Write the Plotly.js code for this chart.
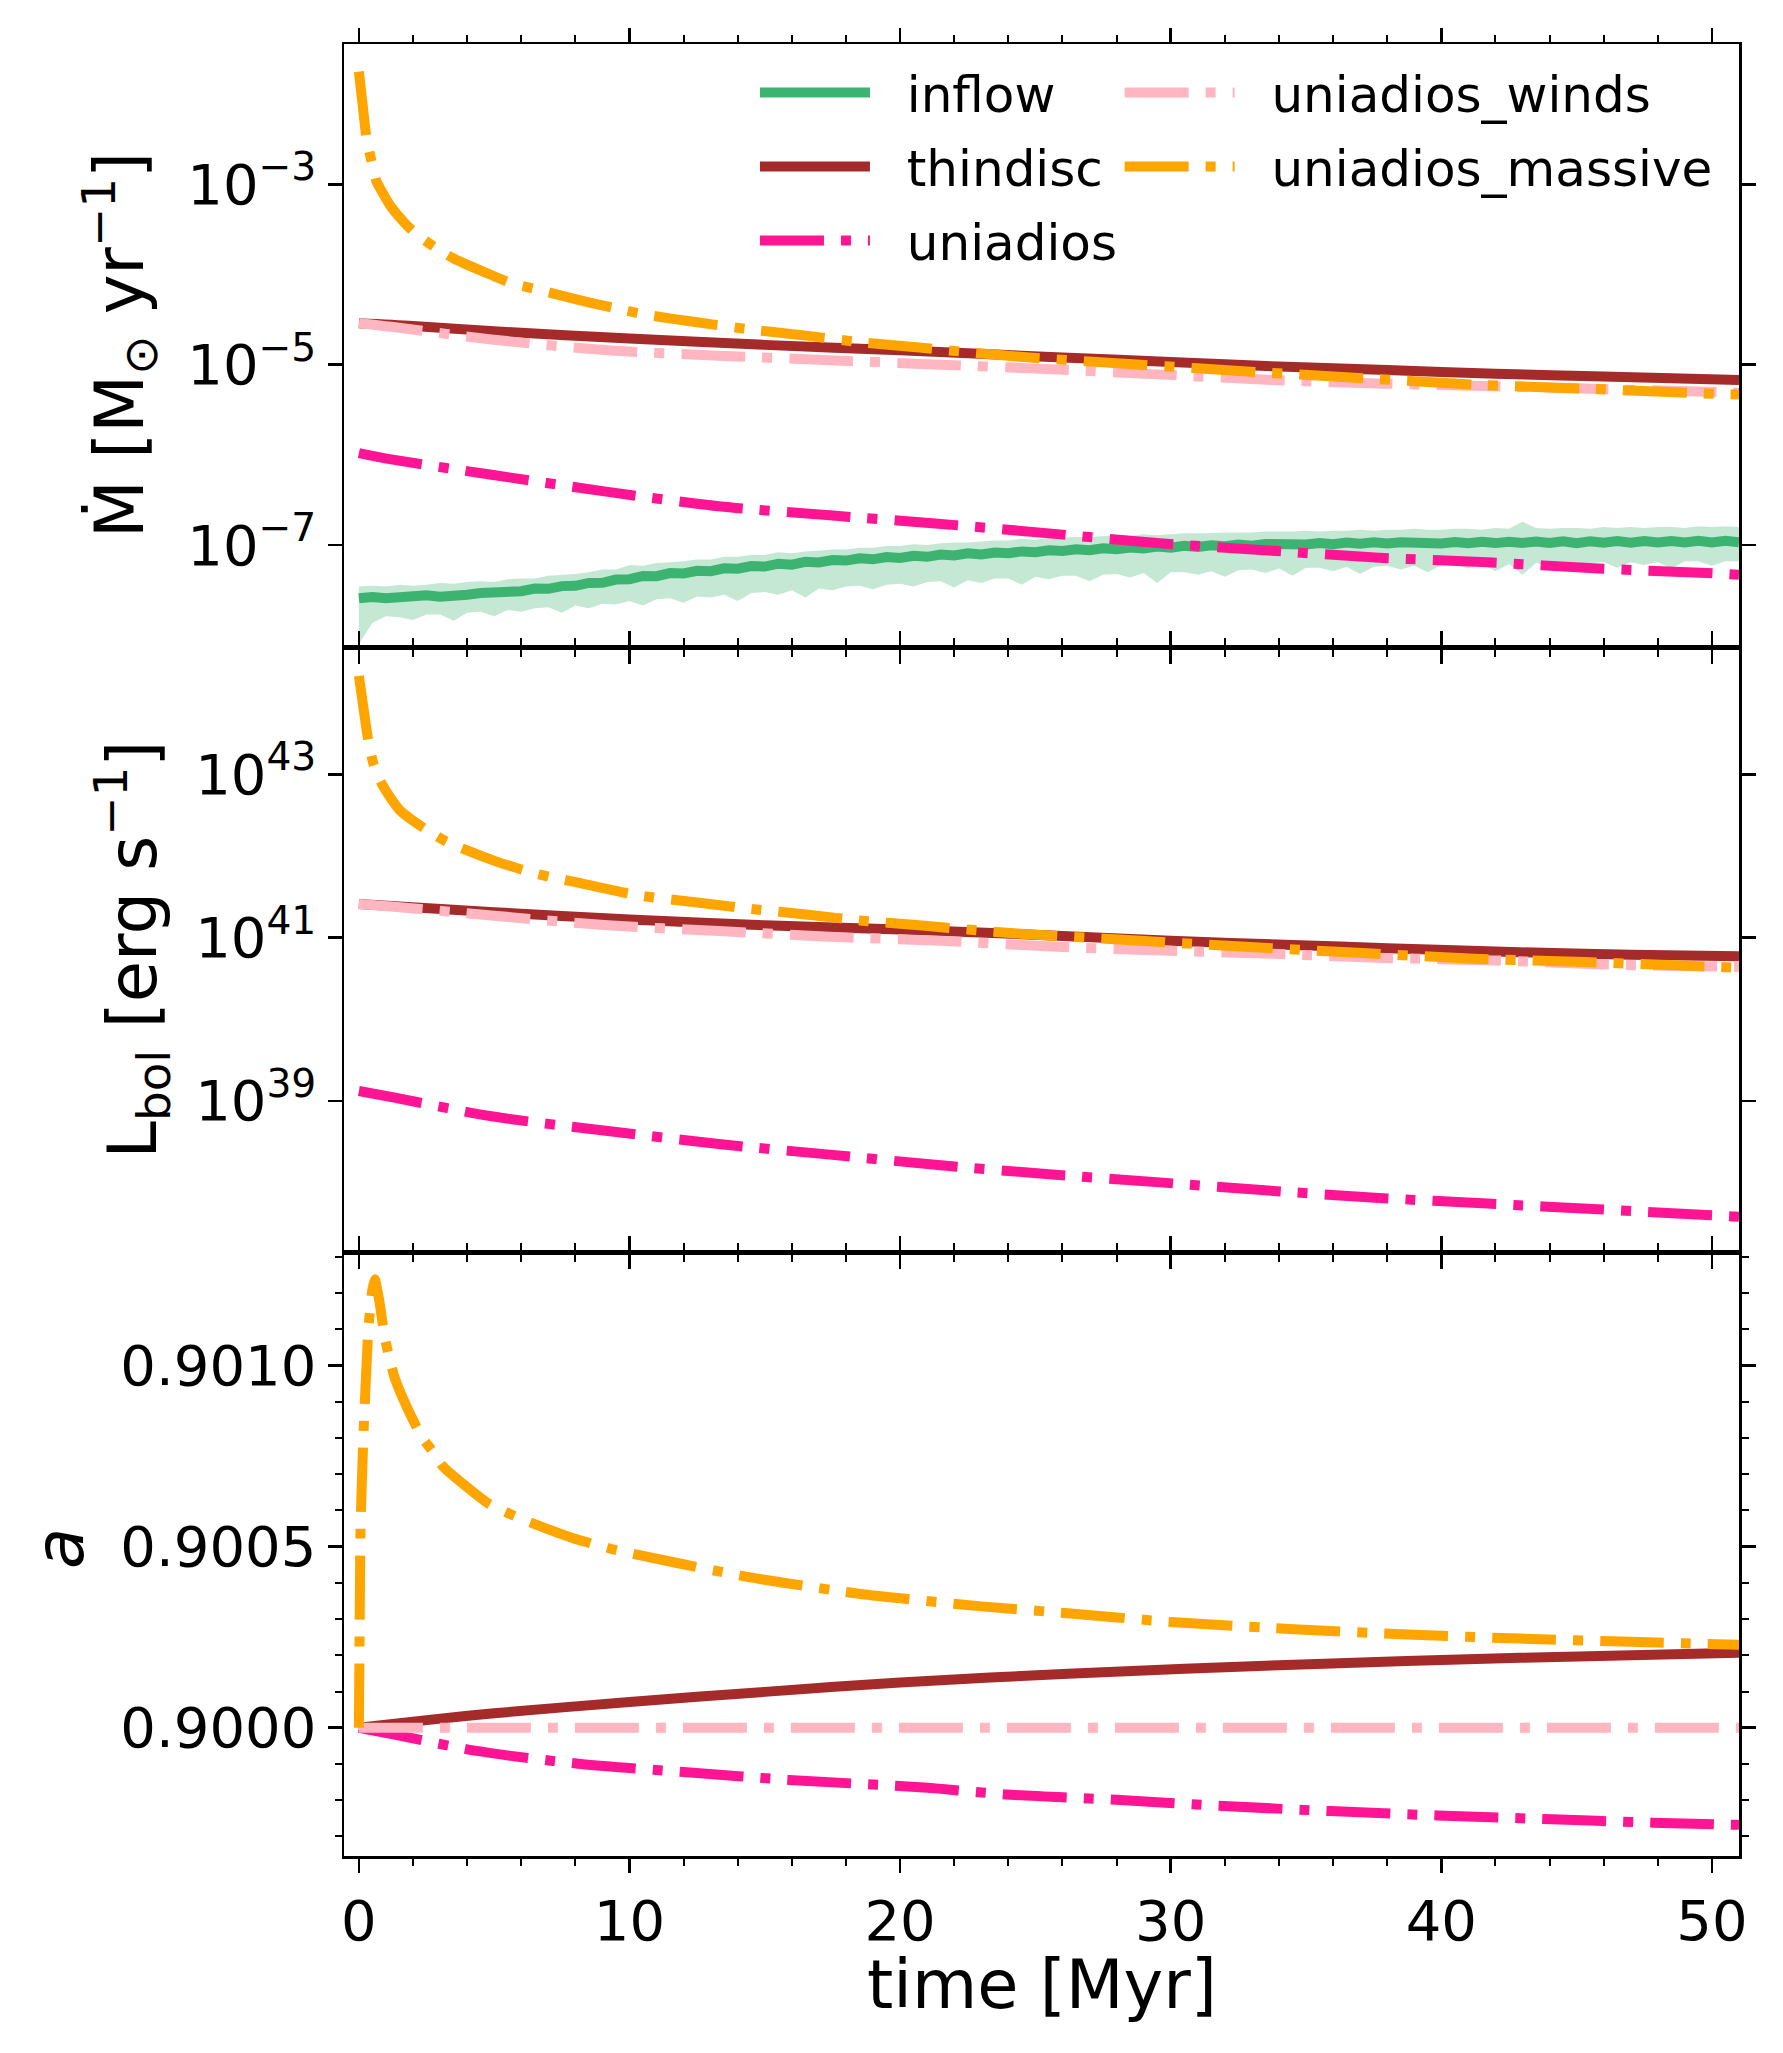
<!DOCTYPE html>
<html><head><meta charset="utf-8">
<script src="https://cdn.plot.ly/plotly-3.0.1.min.js"></script>
<style>html,body{margin:0;padding:0;background:#fff}</style>
</head><body><div id="chart" style="width:1783px;height:2053px"></div>
<script>
// ---------- Panel 1: accretion rate (log10 of Mdot in Msun/yr) ----------
const inflowTime = [
  0,0.5,1,1.5,2,2.5,3,3.5,4,4.5,
  5,5.5,6,6.5,7,7.5,8,8.5,9,9.5,
  10,10.5,11,11.5,12,12.5,13,13.5,14,14.5,
  15,15.5,16,16.5,17,17.5,18,18.5,19,19.5,
  20,20.5,21,21.5,22,22.5,23,23.5,24,24.5,
  25,25.5,26,26.5,27,27.5,28,28.5,29,29.5,
  30,30.5,31,31.5,32,32.5,33,33.5,34,34.5,
  35,35.5,36,36.5,37,37.5,38,38.5,39,39.5,
  40,40.5,41,41.5,42,42.5,43,43.5,44,44.5,
  45,45.5,46,46.5,47,47.5,48,48.5,49,49.5,
  50,50.5,51];
const inflowLineLog = [
  -7.59,-7.575,-7.588,-7.572,-7.58,-7.556,-7.572,-7.548,-7.55,-7.532,
  -7.53,-7.505,-7.512,-7.482,-7.485,-7.455,-7.452,-7.42,-7.418,-7.382,
  -7.378,-7.342,-7.345,-7.31,-7.315,-7.285,-7.29,-7.258,-7.262,-7.232,
  -7.238,-7.206,-7.218,-7.186,-7.192,-7.166,-7.172,-7.146,-7.158,-7.132,
  -7.142,-7.118,-7.13,-7.104,-7.115,-7.092,-7.104,-7.082,-7.09,-7.07,
  -7.078,-7.058,-7.066,-7.046,-7.056,-7.036,-7.046,-7.028,-7.038,-7.016,
  -7.028,-7.008,-7.02,-7.002,-7.012,-6.994,-7.006,-6.988,-6.998,-6.982,
  -6.994,-6.976,-6.99,-6.972,-6.986,-6.97,-6.983,-6.968,-6.98,-6.965,
  -6.982,-6.966,-6.98,-6.964,-6.978,-6.962,-6.976,-6.96,-6.976,-6.958,
  -6.978,-6.958,-6.974,-6.956,-6.974,-6.955,-6.972,-6.954,-6.972,-6.953,
  -6.97,-6.952,-6.968];
const inflowUpperLog = [
  -7.46,-7.45,-7.46,-7.44,-7.45,-7.44,-7.42,-7.43,-7.41,-7.40,
  -7.41,-7.38,-7.37,-7.37,-7.34,-7.33,-7.32,-7.30,-7.27,-7.27,
  -7.22,-7.23,-7.20,-7.19,-7.18,-7.16,-7.16,-7.13,-7.13,-7.11,
  -7.11,-7.08,-7.09,-7.07,-7.06,-7.05,-7.05,-7.03,-7.03,-7.01,
  -7.01,-6.99,-7.00,-6.98,-6.97,-6.97,-6.96,-6.95,-6.95,-6.93,
  -6.94,-6.92,-6.92,-6.91,-6.91,-6.90,-6.89,-6.90,-6.88,-6.89,
  -6.88,-6.87,-6.87,-6.87,-6.86,-6.86,-6.86,-6.85,-6.85,-6.85,
  -6.84,-6.85,-6.84,-6.84,-6.83,-6.84,-6.83,-6.83,-6.82,-6.83,
  -6.83,-6.82,-6.82,-6.83,-6.81,-6.82,-6.74,-6.81,-6.82,-6.81,
  -6.81,-6.82,-6.80,-6.81,-6.80,-6.81,-6.80,-6.80,-6.81,-6.79,
  -6.80,-6.79,-6.80];
const inflowLowerLog = [
  -8.10,-7.86,-7.79,-7.80,-7.83,-7.77,-7.77,-7.84,-7.75,-7.74,
  -7.79,-7.72,-7.74,-7.70,-7.69,-7.75,-7.67,-7.70,-7.65,-7.66,
  -7.62,-7.67,-7.60,-7.59,-7.64,-7.57,-7.58,-7.55,-7.62,-7.53,
  -7.52,-7.55,-7.50,-7.58,-7.48,-7.50,-7.46,-7.45,-7.49,-7.44,
  -7.43,-7.46,-7.41,-7.40,-7.47,-7.39,-7.42,-7.37,-7.37,-7.44,
  -7.35,-7.38,-7.34,-7.34,-7.40,-7.33,-7.32,-7.36,-7.31,-7.42,
  -7.30,-7.30,-7.33,-7.29,-7.35,-7.28,-7.27,-7.31,-7.26,-7.34,
  -7.25,-7.25,-7.29,-7.24,-7.32,-7.24,-7.23,-7.27,-7.23,-7.30,
  -7.22,-7.22,-7.26,-7.21,-7.29,-7.21,-7.33,-7.20,-7.24,-7.20,
  -7.27,-7.20,-7.19,-7.25,-7.19,-7.22,-7.19,-7.26,-7.18,-7.18,
  -7.23,-7.18,-7.18];

const thindiscMdotTime = [0,2,5,10,15,20,26,30,34,38,42,46,51];
const thindiscMdotLog  = [-4.54,-4.57,-4.63,-4.71,-4.78,-4.84,-4.92,-4.97,-5.02,-5.06,-5.10,-5.13,-5.17];

const uniadiosMdotTime = [0,1.2,4.9,9.2,13.3,17.4,21.3,25.5,29.6,33.6,37.7,41.7,45.8,49.8,51];
const uniadiosMdotLog  = [-5.98,-6.05,-6.22,-6.41,-6.57,-6.67,-6.76,-6.87,-6.98,-7.06,-7.14,-7.19,-7.26,-7.31,-7.33];

const windsMdotTime = [0,1.2,4.9,9.2,13.3,17.4,21.5,25.6,29.7,33.8,37.9,42,46,51];
const windsMdotLog  = [-4.54,-4.58,-4.72,-4.84,-4.90,-4.95,-5.0,-5.05,-5.11,-5.17,-5.21,-5.24,-5.27,-5.31];

const massiveMdotTime = [0,0.14,0.283,0.44,0.653,0.776,1.146,1.638,2.07,2.77,3.49,4.59,5.64,6.5,7.37,8.5,9.65,10.5,12.5,14.5,16.6,18.5,20.7,24.3,28.9,33.1,37.1,41.2,45.3,49.4,51];
const massiveMdotLog  = [-1.75,-2.12,-2.49,-2.71,-2.97,-3.04,-3.23,-3.41,-3.54,-3.69,-3.82,-3.967,-4.096,-4.16,-4.225,-4.31,-4.384,-4.44,-4.53,-4.61,-4.68,-4.75,-4.81,-4.91,-5.0,-5.08,-5.15,-5.22,-5.265,-5.315,-5.33];

// ---------- Panel 2: bolometric luminosity (log10 of erg/s) ----------
const thindiscLTime = [0,5,10,15,20,26,30,34.5,38,42.9,47,51];
const thindiscLLog  = [41.41,41.31,41.22,41.15,41.10,41.02,40.96,40.91,40.87,40.82,40.79,40.77];

const uniadiosLTime = [0,1.3,4.9,9.2,13.3,17.4,21.5,25.5,29.6,33.6,37.7,41.7,45.8,49.8,51];
const uniadiosLLog  = [39.12,39.04,38.81,38.63,38.47,38.34,38.21,38.10,38.0,37.90,37.81,37.74,37.67,37.60,37.58];

const windsLTime = [0,1.2,4.9,9.2,13.3,17.4,21.5,25.6,29.7,33.8,37.9,42,46,51];
const windsLLog  = [41.41,41.38,41.27,41.15,41.08,41.01,40.96,40.89,40.84,40.80,40.75,40.72,40.67,40.64];

const massiveLTime = [0,0.17,0.345,0.53,0.838,1.515,2.5,3.24,3.98,5.09,6.26,7.08,7.92,10.26,12.5,14.5,16.6,18.5,20.7,24.3,28.9,33.1,37.1,41.2,45.3,49.4,51];
const massiveLLog  = [44.206,43.81,43.42,43.14,42.89,42.56,42.32,42.175,42.07,41.93,41.81,41.74,41.685,41.52,41.43,41.35,41.28,41.21,41.15,41.05,40.96,40.88,40.81,40.74,40.70,40.65,40.63];

// ---------- Panel 3: spin parameter a ----------
const thindiscSpinTime = [0,2.5,5,10,15,20,26.2,34.55,42.9,51];
const thindiscSpin     = [0.9,0.900021,0.90004,0.900071,0.900099,0.900125,0.900149,0.900174,0.900193,0.900207];

const uniadiosSpinTime = [0,1.27,4.35,8.2,12.0,15.9,20.9,23.9,28.0,31.96,35.9,39.86,43.8,47.8,51];
const uniadiosSpin     = [0.9,0.899982,0.899936,0.8999,0.899878,0.899856,0.899835,0.899816,0.899801,0.899784,0.89977,0.899758,0.899748,0.899738,0.899732];

const windsSpinTime = [0,51];
const windsSpin     = [0.9,0.9];

const massiveSpinTime = [0,0.03,0.06,0.16,0.35,0.5,0.59,0.75,0.96,1.145,1.33,1.82,2.32,2.69,3.12,4.78,5.95,7.92,9.52,14.3,18.55,23,26.2,30,34.55,38.5,42.9,47,51];
const massiveSpin     = [0.9,0.9003,0.90055,0.90079,0.9011,0.90121,0.901238,0.90118,0.901075,0.901015,0.900964,0.900877,0.900803,0.900766,0.90072,0.900619,0.900578,0.900523,0.90049,0.900417,0.900369,0.900335,0.900316,0.900292,0.900272,0.900258,0.900246,0.900237,0.900229];

// ---------- Tick labels ----------
const mdotTickVals = [1e-7,1e-5,1e-3];
const mdotTickText = ['10<sup>−7</sup>','10<sup>−5</sup>','10<sup>−3</sup>'];
const lumTickVals = [1e39,1e41,1e43];
const lumTickText = ['10<sup>39</sup>','10<sup>41</sup>','10<sup>43</sup>'];

const colors = {inflow:'#3cb371', thindisc:'#a52a2a', uniadios:'#ff1493', uniadios_winds:'#ffb6c1', uniadios_massive:'#ffa500'};

const FONT = 'DejaVu Sans, Liberation Sans, sans-serif';
const LW = 10;
const DASHDOT = '64px,17px,10px,17px';
const PAD = '\u00A0\u00A0';
const pow10 = arr => arr.map(v => Math.pow(10, v));

function line(x, y, xa, ya, name, dash, legend, showlegend, smooth) {
  const ln = {color: colors[name], width: LW, dash: dash};
  if (smooth) { ln.shape = 'spline'; ln.smoothing = smooth; }
  return {
    type: 'scatter', mode: 'lines', x: x, y: y, xaxis: xa, yaxis: ya,
    name: PAD + name, legendgroup: name, legend: legend, showlegend: showlegend,
    line: ln, hoverinfo: 'skip'
  };
}

const traces = [];
// Panel 1
traces.push({type:'scatter', mode:'lines', x: inflowTime, y: pow10(inflowLowerLog), xaxis:'x', yaxis:'y',
  line:{width:0, color:'rgba(60,179,113,0)'}, showlegend:false, hoverinfo:'skip'});
traces.push({type:'scatter', mode:'lines', x: inflowTime, y: pow10(inflowUpperLog), xaxis:'x', yaxis:'y',
  fill:'tonexty', fillcolor:'rgba(60,179,113,0.3)', line:{width:0, color:'rgba(60,179,113,0)'}, showlegend:false, hoverinfo:'skip'});
traces.push(line(inflowTime, pow10(inflowLineLog), 'x', 'y', 'inflow', 'solid', 'legend', true, 0));
traces.push(line(thindiscMdotTime, pow10(thindiscMdotLog), 'x', 'y', 'thindisc', 'solid', 'legend', true, 0.8));
traces.push(line(uniadiosMdotTime, pow10(uniadiosMdotLog), 'x', 'y', 'uniadios', DASHDOT, 'legend', true, 0.8));
traces.push(line(windsMdotTime, pow10(windsMdotLog), 'x', 'y', 'uniadios_winds', DASHDOT, 'legend2', true, 0.8));
traces.push(line(massiveMdotTime, pow10(massiveMdotLog), 'x', 'y', 'uniadios_massive', DASHDOT, 'legend2', true, 0.7));
// Panel 2
traces.push(line(thindiscLTime, pow10(thindiscLLog), 'x2', 'y2', 'thindisc', 'solid', 'legend', false, 0.8));
traces.push(line(uniadiosLTime, pow10(uniadiosLLog), 'x2', 'y2', 'uniadios', DASHDOT, 'legend', false, 0.8));
traces.push(line(windsLTime, pow10(windsLLog), 'x2', 'y2', 'uniadios_winds', DASHDOT, 'legend2', false, 0.8));
traces.push(line(massiveLTime, pow10(massiveLLog), 'x2', 'y2', 'uniadios_massive', DASHDOT, 'legend2', false, 0.7));
// Panel 3
traces.push(line(thindiscSpinTime, thindiscSpin, 'x3', 'y3', 'thindisc', 'solid', 'legend', false, 0.8));
traces.push(line(uniadiosSpinTime, uniadiosSpin, 'x3', 'y3', 'uniadios', DASHDOT, 'legend', false, 0.8));
traces.push(line(windsSpinTime, windsSpin, 'x3', 'y3', 'uniadios_winds', DASHDOT, 'legend2', false, 0));
traces.push(line(massiveSpinTime, massiveSpin, 'x3', 'y3', 'uniadios_massive', DASHDOT, 'legend2', false, 0.5));

const axisCommon = {
  showline: true, linecolor: '#000', linewidth: 2.5, mirror: 'allticks',
  ticks: 'outside', ticklen: 14, tickwidth: 2.5, tickcolor: '#000',
  showgrid: false, zeroline: false,
  tickfont: {family: FONT, size: 56, color: '#000'}
};
const xCommon = Object.assign({}, axisCommon, {
  range: [-0.55, 51.0], tick0: 0, dtick: 10,
  minor: {ticks: 'outside', dtick: 2, tick0: 0, ticklen: 7, tickwidth: 2, tickcolor: '#000', showgrid: false}
});

const D1 = 1209/1812, D2 = 604/1812;
const legendCommon = {yanchor: 'top', xanchor: 'left', orientation: 'v', y: 0.9948,
  bgcolor: 'rgba(0,0,0,0)', borderwidth: 0, itemwidth: 110, tracegroupgap: 6,
  font: {family: FONT, size: 50, color: '#000'}};

const layout = {
  width: 1783, height: 2053,
  margin: {l: 344, r: 44, t: 44, b: 197},
  paper_bgcolor: '#fff', plot_bgcolor: '#fff',
  font: {family: FONT, color: '#000'},
  showlegend: true,
  xaxis: Object.assign({}, xCommon, {anchor: 'y', showticklabels: false}),
  xaxis2: Object.assign({}, xCommon, {anchor: 'y2', matches: 'x', showticklabels: false}),
  xaxis3: Object.assign({}, xCommon, {anchor: 'y3', matches: 'x', showticklabels: true}),
  yaxis: Object.assign({}, axisCommon, {domain: [D1, 1], type: 'log', range: [-8.13, -1.444],
    tickmode: 'array', tickvals: mdotTickVals, ticktext: mdotTickText}),
  yaxis2: Object.assign({}, axisCommon, {domain: [D2, D1], type: 'log', range: [37.147, 44.56],
    tickmode: 'array', tickvals: lumTickVals, ticktext: lumTickText}),
  yaxis3: Object.assign({}, axisCommon, {domain: [0, D2], range: [0.899646, 0.901313],
    tick0: 0.9, dtick: 0.0005, tickformat: '.4f',
    minor: {ticks: 'outside', dtick: 0.0001, tick0: 0.9, ticklen: 7, tickwidth: 2, tickcolor: '#000', showgrid: false}}),
  legend: Object.assign({}, legendCommon, {x: 0.2946}),
  legend2: Object.assign({}, legendCommon, {x: 0.556}),
  annotations: [
    {text: 'time [Myr]', xref: 'paper', yref: 'paper', x: 0.5, y: -0.071, xanchor: 'center', yanchor: 'middle',
     showarrow: false, font: {family: FONT, size: 67, color: '#000'}},
    {text: 'Ṁ [M<sub>⊙</sub> yr<sup>−1</sup>]', xref: 'paper', yref: 'paper', x: -0.1606, y: 0.8339,
     xanchor: 'center', yanchor: 'middle', textangle: -90, showarrow: false, font: {family: FONT, size: 67, color: '#000'}},
    {text: 'L<sub>bol</sub> [erg s<sup>−1</sup>]', xref: 'paper', yref: 'paper', x: -0.152, y: 0.5003,
     xanchor: 'center', yanchor: 'middle', textangle: -90, showarrow: false, font: {family: FONT, size: 67, color: '#000'}},
    {text: '<i>a</i>', xref: 'paper', yref: 'paper', x: -0.2036, y: 0.170,
     xanchor: 'center', yanchor: 'middle', textangle: -90, showarrow: false, font: {family: FONT, size: 67, color: '#000'}}
  ]
};

Plotly.newPlot('chart', traces, layout, {displayModeBar: false, staticPlot: true});
</script></body></html>
